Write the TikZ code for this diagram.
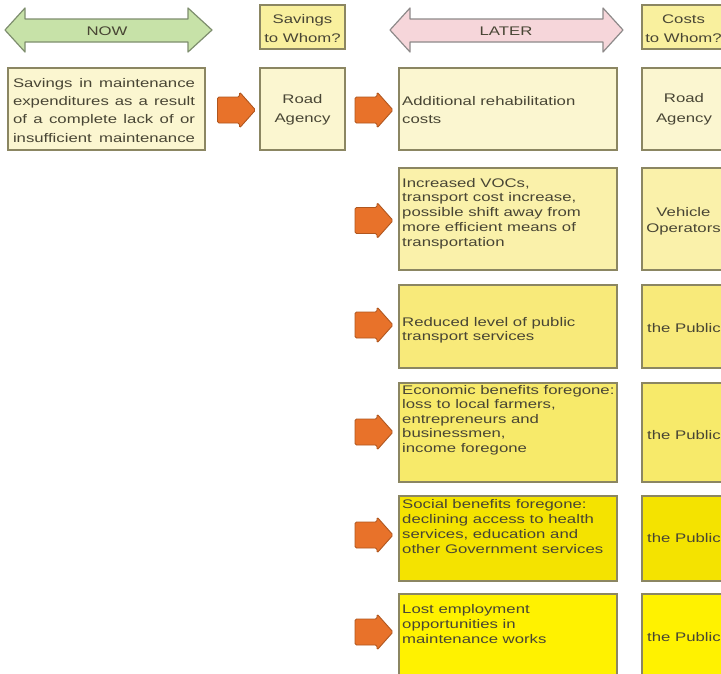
\documentclass[tikz,border=0pt]{standalone}
\usepackage{fontspec}
\setmainfont{Liberation Sans}[FakeStretch=1.34]
\definecolor{bordc}{HTML}{8B8662}
\definecolor{textc}{HTML}{484534}
\definecolor{cream}{HTML}{FBF6D0}
\definecolor{hdry}{HTML}{F9F09E}
\definecolor{yB}{HTML}{FAF1AA}
\definecolor{yC}{HTML}{F8EA7A}
\definecolor{yD}{HTML}{F7EA6A}
\definecolor{yE}{HTML}{F4E300}
\definecolor{yF}{HTML}{FFF200}
\definecolor{nowfill}{HTML}{C7E2A8}
\definecolor{nowbord}{HTML}{7E8E6E}
\definecolor{laterfill}{HTML}{F6D6DA}
\definecolor{laterbord}{HTML}{8E8A8A}
\definecolor{orfill}{HTML}{E8722A}
\definecolor{orbord}{HTML}{B0561E}
\begin{document}
\begin{tikzpicture}[x=1pt,y=-1pt,
  box/.style={draw=bordc,line width=1.3pt,inner sep=0pt,outer sep=0pt},
  txt/.style={text=textc,inner sep=0pt,font=\fontsize{12.5}{14.7}\selectfont},
  ltxt/.style={txt,anchor=west,align=left},
  ctxt/.style={txt,align=center},
  orarrow/.style={fill=orfill,draw=orbord,line width=0.9pt,rounded corners=1.5pt,line join=round},
  blockarrow/.pic={\draw[orarrow] (-19,-13) -- (3,-13) -- (3,-18) -- (19,0) -- (3,18) -- (3,13) -- (-19,13) -- cycle;}
]
\useasboundingbox (0,0) rectangle (721,673);
\clip (0,0) rectangle (721,673);
\fill[white] (0,0) rectangle (721,673);

% NOW / LATER double arrows
\draw[fill=nowfill,draw=nowbord,line width=1.2pt,line join=round]
  (5,30) -- (25,8) -- (25,19) -- (188,19) -- (188,8) -- (212,30) -- (188,52) -- (188,42) -- (25,42) -- (25,52) -- cycle;
\node[txt] (now) at (107,31) {NOW};
\draw[fill=laterfill,draw=laterbord,line width=1.2pt,line join=round]
  (390,30) -- (410,8) -- (410,19) -- (603,19) -- (603,8) -- (623,30) -- (603,52) -- (603,42) -- (410,42) -- (410,52) -- cycle;
\node[txt] (later) at (506,31) {LATER};

% header boxes
\node[box,fill=hdry,minimum width=85pt,minimum height=44pt] (sav) at (302.5,27) {};
\node[ctxt,font=\fontsize{12.5}{19}\selectfont] (savt) at (302.5,28.2) {Savings\\to Whom?};
\node[box,fill=hdry,minimum width=86pt,minimum height=44pt] (costs) at (685,27) {};
\node[ctxt,font=\fontsize{12.5}{19}\selectfont] (costst) at (683.5,28.2) {Costs\\to Whom?};

% NOW row
\node[box,fill=cream,minimum width=197pt,minimum height=82pt] (nowbox) at (106.5,109) {};
\node[txt,align=center,font=\fontsize{12.5}{18.3}\selectfont] (nowt) at (104,110.2) {%
  \makebox[182pt][s]{Savings in maintenance}\\
  \makebox[182pt][s]{expenditures as a result}\\
  \makebox[182pt][s]{of a complete lack of or}\\
  \makebox[182pt][s]{insufficient maintenance}};
\node[box,fill=cream,minimum width=85pt,minimum height=82pt] (road1) at (302.5,109) {};
\node[ctxt,font=\fontsize{12.5}{19}\selectfont] (road1t) at (302.5,110.2) {Road\\Agency};

% LATER boxes
\node[box,fill=cream,minimum width=218pt,minimum height=82pt] (L1) at (508,109) {};
\node[ltxt,font=\fontsize{12.5}{18}\selectfont] (L1t) at (402,109.8) {Additional rehabilitation\\costs};
\node[box,fill=cream,minimum width=86pt,minimum height=82pt] (R1) at (685,109) {};
\node[ctxt,font=\fontsize{12.5}{20}\selectfont] (R1t) at (684,108.8) {Road\\Agency};

\node[box,fill=yB,minimum width=218pt,minimum height=102pt] (L2) at (508,219) {};
\node[ltxt,font=\fontsize{12.5}{14.75}\selectfont] (L2t) at (402,213.3) {Increased VOCs,\\transport cost increase,\\possible shift away from\\more efficient means of\\transportation};
\node[box,fill=yB,minimum width=86pt,minimum height=102pt] (R2) at (685,219) {};
\node[ctxt,font=\fontsize{12.5}{16}\selectfont] (R2t) at (683.5,220.8) {Vehicle\\Operators};

\node[box,fill=yC,minimum width=218pt,minimum height=83pt] (L3) at (508,326.5) {};
\node[ltxt,font=\fontsize{12.5}{14}\selectfont] (L3t) at (402,329.8) {Reduced level of public\\transport services};
\node[box,fill=yC,minimum width=86pt,minimum height=83pt] (R3) at (685,326.5) {};
\node[ctxt] (R3t) at (684,328) {the Public};

\node[box,fill=yD,minimum width=218pt,minimum height=99pt] (L4) at (508,432.5) {};
\node[ltxt,font=\fontsize{12.5}{14.5}\selectfont] (L4t) at (402,419.8) {Economic benefits foregone:\\loss to local farmers,\\entrepreneurs and\\businessmen,\\income foregone};
\node[box,fill=yD,minimum width=86pt,minimum height=99pt] (R4) at (685,432.5) {};
\node[ctxt] (R4t) at (684,435) {the Public};

\node[box,fill=yE,minimum width=218pt,minimum height=85pt] (L5) at (508,538.5) {};
\node[ltxt,font=\fontsize{12.5}{15}\selectfont] (L5t) at (402,526.8) {Social benefits foregone:\\declining access to health\\services, education and\\other Government services};
\node[box,fill=yE,minimum width=86pt,minimum height=85pt] (R5) at (685,538.5) {};
\node[ctxt] (R5t) at (684,538) {the Public};

\node[box,fill=yF,minimum width=218pt,minimum height=100pt] (L6) at (508,644) {};
\node[ltxt,font=\fontsize{12.5}{15}\selectfont] (L6t) at (402,623.8) {Lost employment\\opportunities in\\maintenance works};
\node[box,fill=yF,minimum width=86pt,minimum height=100pt] (R6) at (685,644) {};
\node[ctxt] (R6t) at (684,637) {the Public};

% orange block arrows
\pic at (236.5,110) {blockarrow};
\pic at (374,110) {blockarrow};
\pic at (374,220.5) {blockarrow};
\pic at (374,325) {blockarrow};
\pic at (374,432) {blockarrow};
\pic at (374,535) {blockarrow};
\pic at (374,632) {blockarrow};
\end{tikzpicture}
\end{document}
